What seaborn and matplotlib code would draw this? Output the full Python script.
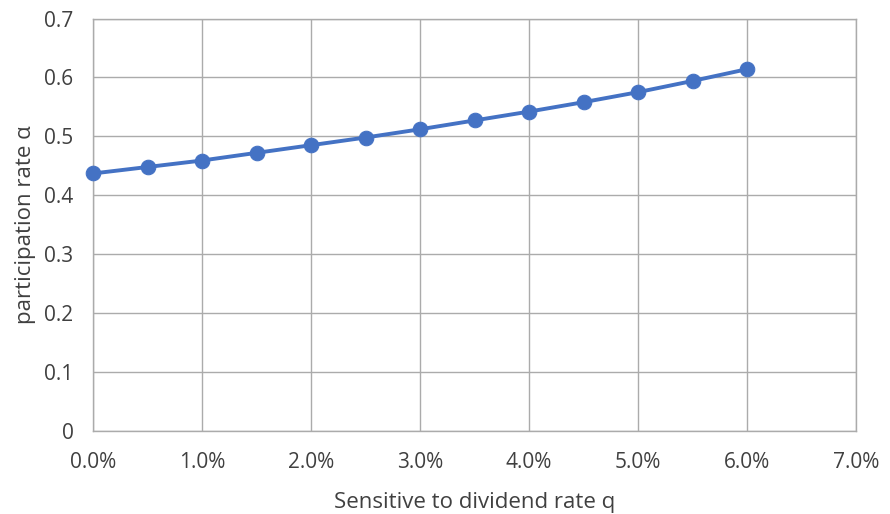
import matplotlib
matplotlib.use("Agg")
import matplotlib.pyplot as plt
import seaborn as sns
import pandas as pd
from matplotlib.ticker import FuncFormatter, MultipleLocator

# Dividend rate q (as fraction) and resulting participation rate alpha
dividend_rate = [0.000, 0.005, 0.010, 0.015, 0.020, 0.025, 0.030,
                 0.035, 0.040, 0.045, 0.050, 0.055, 0.060]
participation = [0.437, 0.448, 0.459, 0.472, 0.485, 0.498, 0.512,
                 0.527, 0.542, 0.558, 0.575, 0.594, 0.614]

df = pd.DataFrame({"q": dividend_rate, "alpha": participation})

sns.set_theme(style="whitegrid")
plt.rcParams["font.family"] = ["Open Sans", "DejaVu Sans"]

text_color = "#404040"
grid_color = "#ababab"

fig = plt.figure(figsize=(8.9, 5.14), dpi=100)
ax = fig.add_axes([0.1045, 0.1615, 0.8573, 0.8025])

sns.lineplot(data=df, x="q", y="alpha", ax=ax, color="#4472C4",
             linewidth=2.8, marker="o", markersize=10.5,
             markeredgecolor="#4472C4", markerfacecolor="#4472C4",
             clip_on=False, zorder=5)

ax.set_xlim(0, 0.07)
ax.set_ylim(0, 0.7)
ax.xaxis.set_major_locator(MultipleLocator(0.01))
ax.yaxis.set_major_locator(MultipleLocator(0.1))
ax.xaxis.set_major_formatter(FuncFormatter(lambda v, _: f"{v*100:.1f}%"))
ax.yaxis.set_major_formatter(FuncFormatter(lambda v, _: "0" if abs(v) < 1e-9 else f"{v:.1f}"))

ax.grid(True, color=grid_color, linewidth=1.0)
for side in ["top", "right", "left", "bottom"]:
    ax.spines[side].set_visible(True)
    ax.spines[side].set_color(grid_color)
    ax.spines[side].set_linewidth(1.0)

ax.tick_params(axis="both", colors=text_color, labelsize=15, length=0)
ax.tick_params(axis="x", pad=15)
ax.tick_params(axis="y", pad=14)

ax.set_xlabel("Sensitive to dividend rate q", fontsize=16, color=text_color, labelpad=14)
ax.set_ylabel("participation rate α", fontsize=16, color=text_color, labelpad=6)

fig.savefig("out.png", dpi=100, facecolor="white")
